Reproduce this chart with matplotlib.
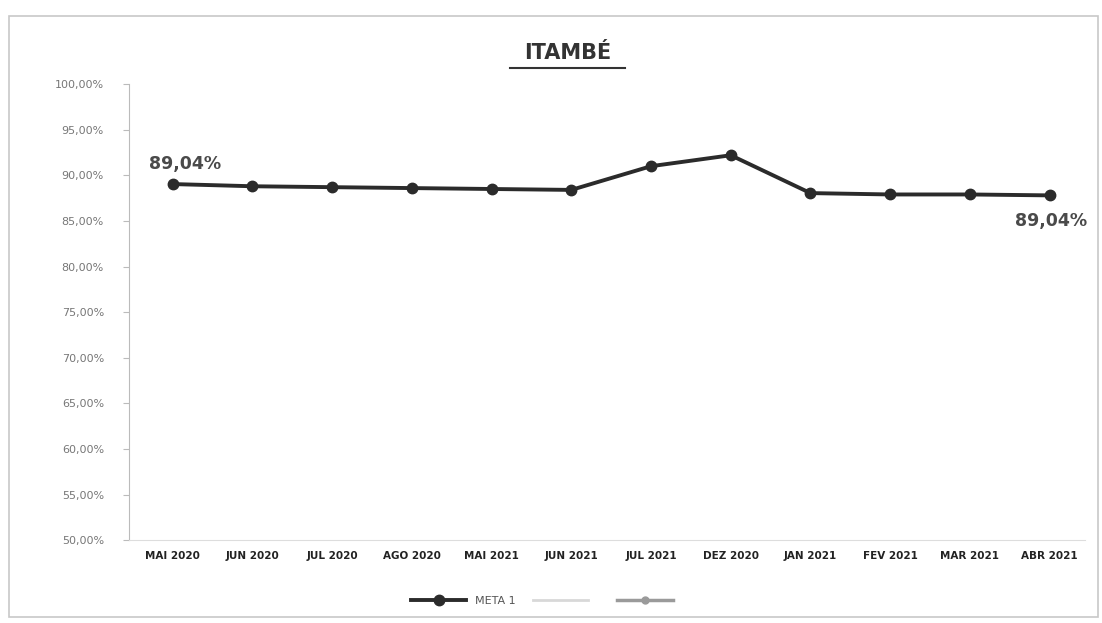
import matplotlib
matplotlib.use("Agg")
import matplotlib.pyplot as plt
from matplotlib.ticker import FuncFormatter

meses = ["MAI 2020", "JUN 2020", "JUL 2020", "AGO 2020", "MAI 2021", "JUN 2021",
         "JUL 2021", "DEZ 2020", "JAN 2021", "FEV 2021", "MAR 2021", "ABR 2021"]
meta1 = [89.04, 88.8, 88.7, 88.6, 88.5, 88.4, 91.0, 92.2, 88.05, 87.9, 87.9, 87.8]
rotulos = {0: "89,04%", 11: "89,04%"}

fig = plt.figure(figsize=(11.02, 6.23), dpi=100)
fig.patches.append(plt.Rectangle((0.008, 0.01), 0.988, 0.965, transform=fig.transFigure,
                                 fill=False, edgecolor="#c8c8c8", linewidth=1.2))
ax = fig.add_axes([0.117, 0.133, 0.868, 0.732])

x = list(range(len(meses)))
ax.plot(x, meta1, color="#2b2b2b", linewidth=2.8, marker="o", markersize=7.5,
        label="META 1")
# series vazias que aparecem na legenda
ax.plot([], [], color="#d8d8d8", linewidth=2, label=" ")
ax.plot([], [], color="#9a9a9a", linewidth=2.5, marker="o", markersize=5, label="  ")

for i, txt in rotulos.items():
    if i == 0:
        ax.annotate(txt, (x[i], meta1[i]), xytext=(-17, 8), textcoords="offset points",
                    ha="left", va="bottom", fontsize=12.5, fontweight="bold", color="#4a4a4a")
    else:
        ax.annotate(txt, (x[i], meta1[i]), xytext=(27, -12), textcoords="offset points",
                    ha="right", va="top", fontsize=12.5, fontweight="bold", color="#4a4a4a")

ax.set_ylim(50, 100)
ax.set_xlim(-0.55, 11.45)
ax.set_yticks(range(50, 101, 5))
ax.yaxis.set_major_formatter(FuncFormatter(lambda v, p: f"{v:.2f}%".replace(".", ",")))
ax.set_xticks(x)
ax.set_xticklabels(meses, fontsize=7.5, fontweight="bold", color="#222222")
ax.tick_params(axis="y", labelsize=8, colors="#777777", length=4, color="#bbbbbb", pad=14)
ax.tick_params(axis="x", length=0, pad=8)
for s in ["top", "right"]:
    ax.spines[s].set_visible(False)
ax.spines["left"].set_color("#bbbbbb")
ax.spines["bottom"].set_color("#dddddd")

fig.text(0.515, 0.915, "ITAMBÉ", ha="center", va="center", fontsize=15,
         fontweight="bold", color="#333333")
fig.add_artist(plt.Line2D([0.463, 0.567], [0.891, 0.891], color="#333333", linewidth=1.5))

ax.legend(loc="upper center", bbox_to_anchor=(0.44, -0.1), ncol=3, frameon=False,
          fontsize=8, handlelength=5, columnspacing=1.5, labelcolor="#555555")

fig.savefig("out.png", dpi=100)
